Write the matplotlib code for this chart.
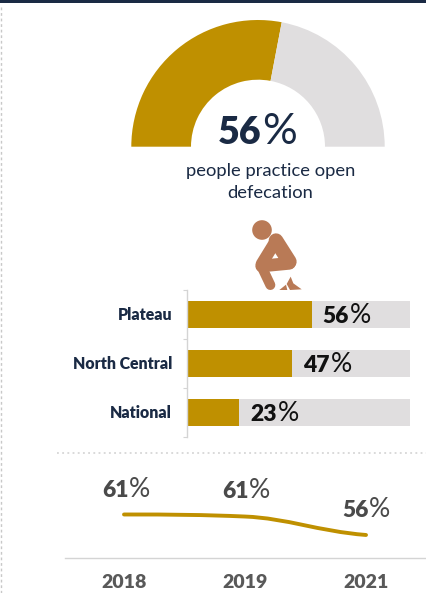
import matplotlib
matplotlib.use("Agg")
import matplotlib.pyplot as plt
from matplotlib.patches import Circle, Polygon, PathPatch
from matplotlib.path import Path

W, H = 427, 593
plt.rcParams['font.family'] = ['Lato', 'DejaVu Sans']

GOLD = '#BF9000'
GREY = '#E0DEDF'
NAVY = '#1A2A44'
SLATE = '#4A4A4A'
BROWN = '#B97A56'

gauge_values = [56, 44]
regions = ['Plateau', 'North Central', 'National']
region_values = [56, 47, 23]
years = ['2018', '2019', '2021']
trend_values = [61.0, 60.5, 56.0]
trend_labels = ['61', '61', '56']

fig = plt.figure(figsize=(W / 100, H / 100), dpi=100, facecolor='white')


def axes_px(left, top, right, bottom, **kw):
    return fig.add_axes([left / W, 1 - bottom / H, (right - left) / W, (bottom - top) / H], **kw)


# gauge
cx, cy, r = 258, 146.7, 126.7
ax_g = axes_px(cx - r, cy - r, cx + r, cy + r)
ax_g.pie(gauge_values + [sum(gauge_values)], colors=[GOLD, GREY, 'none'], startangle=180,
         counterclock=False, radius=1, wedgeprops=dict(width=1 - 67 / 126.7, linewidth=0))
ax_g.set_xlim(-1, 1)
ax_g.set_ylim(-1, 1)
ax_g.axis('off')

# bars
ax_b = axes_px(187.5, 290, 410, 437)
ypos = range(len(regions))
ax_b.barh(ypos, [100] * len(regions), height=0.565, color=GREY, linewidth=0)
ax_b.barh(ypos, region_values, height=0.565, color=GOLD, linewidth=0)
ax_b.set_xlim(0, 100)
ax_b.set_ylim(2.5, -0.5)
for s in ['top', 'right', 'bottom']:
    ax_b.spines[s].set_visible(False)
ax_b.spines['left'].set_color('#D4D4D4')
ax_b.spines['left'].set_linewidth(1.0)
ax_b.set_xticks([])
ax_b.set_yticks([-0.5, 0.5, 1.5, 2.5])
ax_b.set_yticklabels([])
ax_b.tick_params(axis='y', length=3, width=0.8, color='#D4D4D4')
for i, name in enumerate(regions):
    ax_b.annotate(name, xy=(0, i), xycoords=('axes fraction', 'data'), xytext=(-11, -0.6),
                  textcoords='offset points', ha='right', va='center',
                  fontsize=11.4, fontweight='heavy', color=NAVY)

# trend: smooth curve through the three yearly values
ax_l = axes_px(65, 470, 427, 557.7)
xs = list(range(len(years)))
ys = trend_values
m = (ys[2] - ys[0]) / 2 * 0.5
verts = [(xs[0], ys[0]), (xs[0] + 0.4, ys[0]), (xs[1] - 0.35, ys[1] - m * 0.35), (xs[1], ys[1]),
         (xs[1] + 0.35, ys[1] + m * 0.35), (xs[2] - 0.4, ys[2] - m * 0.75), (xs[2], ys[2])]
codes = [Path.MOVETO] + [Path.CURVE4] * 6
ax_l.add_patch(PathPatch(Path(verts, codes), fill=False, edgecolor=GOLD, linewidth=2.8, capstyle='round'))
ax_l.set_xlim(-0.4876, 2.504)
ax_l.set_ylim(50.46, 71.85)
for s in ['top', 'right', 'left']:
    ax_l.spines[s].set_visible(False)
ax_l.spines['bottom'].set_color('#D4D4D4')
ax_l.spines['bottom'].set_linewidth(1.0)
ax_l.set_yticks([])
ax_l.set_xticks(xs)
ax_l.set_xticklabels(years, fontsize=14, fontweight='heavy', color='#595959')
ax_l.tick_params(axis='x', length=0, pad=11.5)
ax_l.patch.set_alpha(0)

# overlay in pixel coordinates
ov = fig.add_axes([0, 0, 1, 1], facecolor='none')
ov.set_xlim(0, W)
ov.set_ylim(H, 0)
ov.axis('off')


def num_pct(split, base, num, size, color):
    ov.text(split, base, num, ha='right', va='baseline', fontsize=size, fontweight='heavy', color=color)
    ov.text(split + 0.5, base, '%', ha='left', va='baseline', fontsize=size * 1.16, fontweight='normal', color=color)


num_pct(261.7, 143.5, str(gauge_values[0]), 27, NAVY)
ov.text(270.5, 171, 'people practice open', ha='center', va='center', fontsize=13.2, color=NAVY)
ov.text(270.5, 192.5, 'defecation', ha='center', va='center', fontsize=13.2, color=NAVY)

for split, base, v in zip([349, 330, 277.3], [322.7, 371.7, 420.7], region_values):
    num_pct(split, base, str(v), 16.5, '#111111')
for split, base, v in zip([128.5, 248.5, 368.5], [496.7, 498.3, 516.7], trend_labels):
    num_pct(split, base, v, 16.5, SLATE)

# frame decorations
ov.fill_between([0, W], 0, 3, color=NAVY, linewidth=0)
ov.plot([0.6, 0.6], [7, H], color='#C8C8C8', lw=1, ls=(0, (2, 2)))
ov.plot([57, W], [452.7, 452.7], color='#CFCFCF', lw=1.1, ls=(0, (1.2, 2.2)))

# figure icon
z = lambda pts: [(x / 3, y / 3) for x, y in pts]


def limb(p, q, width):
    sx, sy = zip(*z([p, q]))
    ov.plot(sx, sy, color=BROWN, lw=width / 3 * 0.72, solid_capstyle='round')


ov.add_patch(Circle((262, 230), 9.8, color=BROWN, lw=0))
limb((828, 722), (785, 792), 36)
limb((828, 722), (868, 785), 44)
limb((785, 798), (868, 790), 38)
limb((785, 800), (811, 855), 30)
ov.add_patch(Polygon(z([(813, 748), (829, 778), (795, 776)]), closed=True, color='white', lw=0))
ov.add_patch(Polygon(z([(838, 870), (858, 854), (862, 870)]), closed=True, color=BROWN, lw=0))
ov.add_patch(Polygon(z([(860, 852), (872, 830), (880, 850), (905, 868), (870, 870)]), closed=True, color=BROWN, lw=0))

fig.savefig('out.png', dpi=100)
